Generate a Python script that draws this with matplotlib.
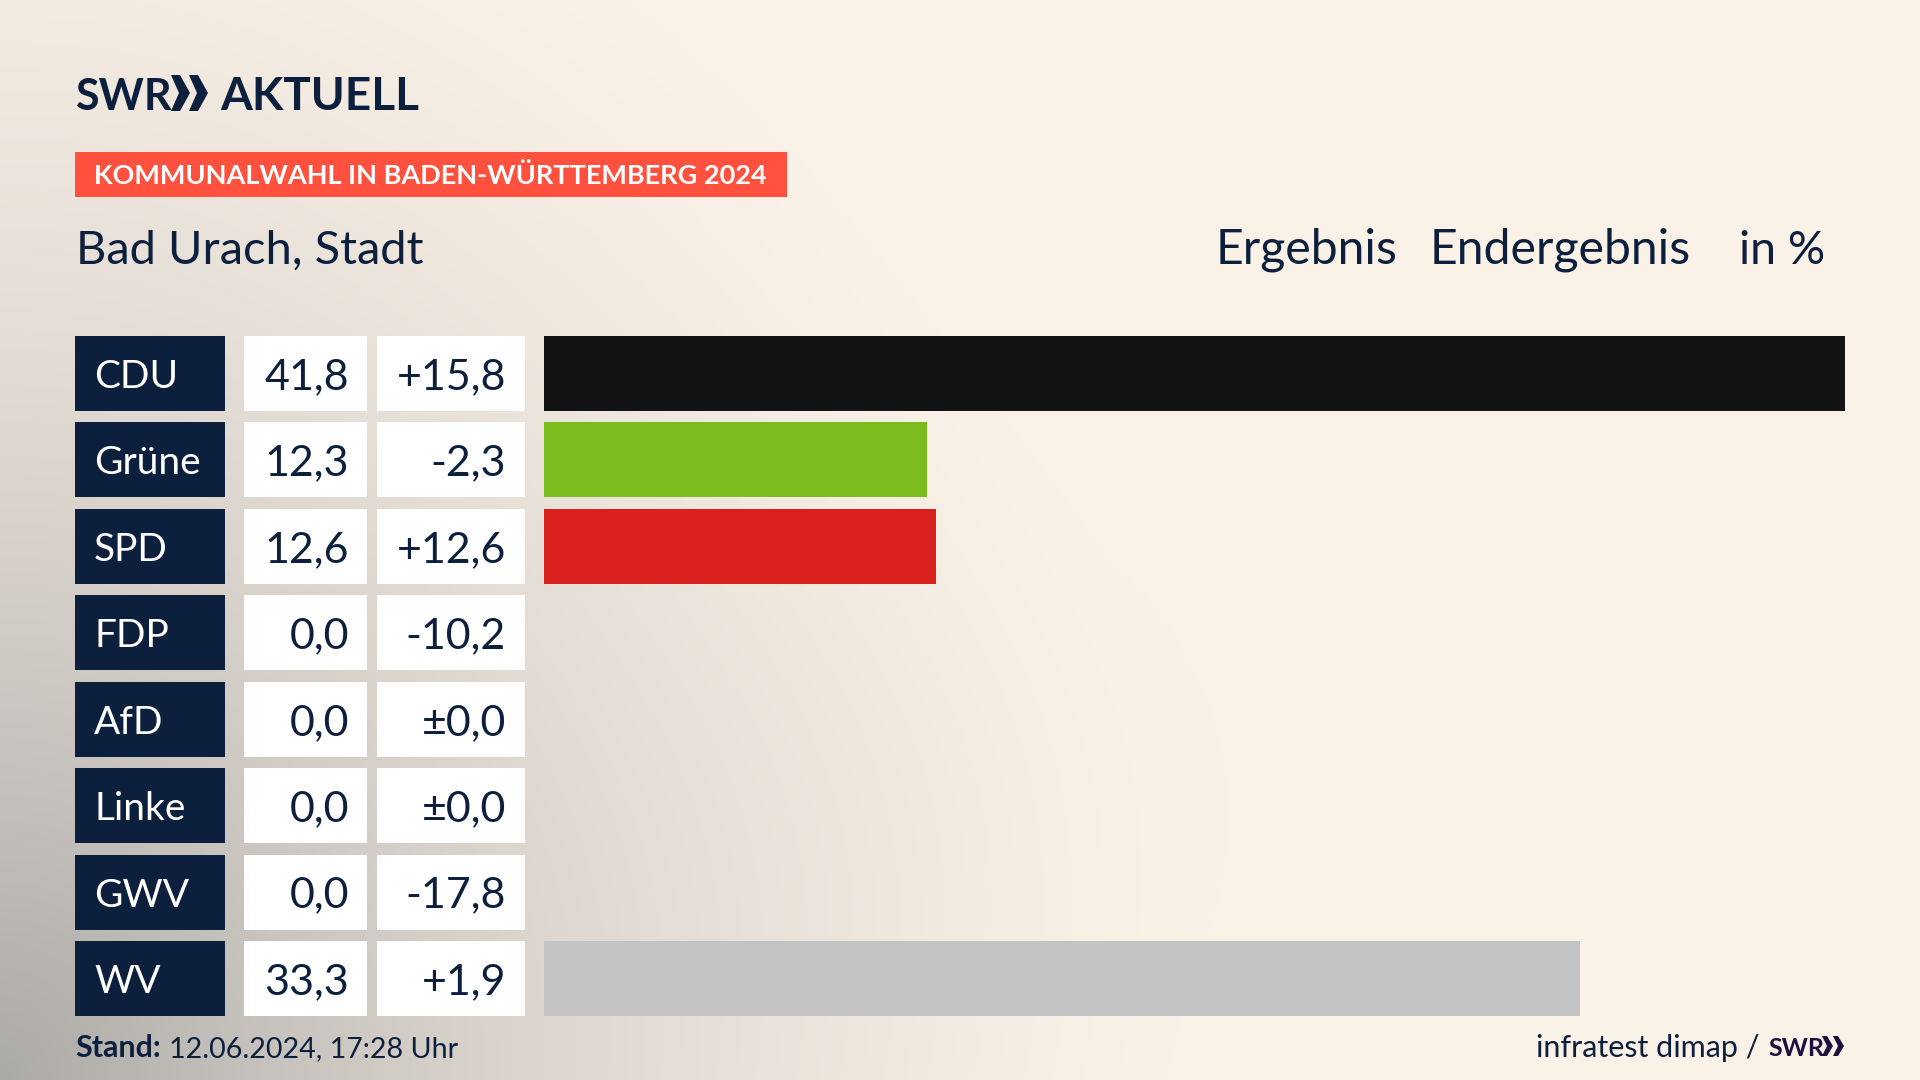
import numpy as np
import matplotlib.pyplot as plt
from matplotlib.patches import Polygon, Rectangle

parties = ["CDU", "Grüne", "SPD", "FDP", "AfD", "Linke", "GWV", "WV"]
results = [41.8, 12.3, 12.6, 0.0, 0.0, 0.0, 0.0, 33.3]
changes = [15.8, -2.3, 12.6, -10.2, 0.0, 0.0, -17.8, 1.9]
colors = ["#131313", "#7ABC1B", "#D8201C", "#888888", "#009EE0", "#BE3075", "#C3C3C3", "#C3C3C3"]

navy = "#0C1F3D"
cream = np.array([251, 242, 232]) / 255
grey = np.array([172, 170, 167]) / 255
font = "Lato"


def fmt_change(v):
    if v == 0:
        return "±0,0"
    return f"{v:+.1f}".replace(".", ",")


fig = plt.figure(figsize=(19.2, 10.8), dpi=100)

# background, dark corner bottom left plus a faint patch in the middle
bg = fig.add_axes([0, 0, 1, 1])
xx, yy = np.meshgrid(np.linspace(0, 1920, 480), np.linspace(0, 1080, 270))
dist = np.sqrt((xx / 1200) ** 2 + ((1080 - yy) / 1400) ** 2)
dark = np.clip(1 - dist, 0, 1) ** 1.6
dark = dark + 0.04 * np.exp(-((xx - 880) ** 2 + (yy - 820) ** 2) / (2 * 230 ** 2))
img = cream[None, None, :] * (1 - dark[..., None]) + grey[None, None, :] * dark[..., None]
bg.imshow(np.clip(img, 0, 1), extent=[0, 1920, 1080, 0], aspect="auto", interpolation="bilinear")
bg.set_xlim(0, 1920)
bg.set_ylim(1080, 0)
bg.axis("off")

# header
bg.text(75, 110, "SWR", family=font, weight="bold", fontsize=31, color=navy, va="baseline")
for x0 in (171, 189):
    bg.add_patch(Polygon([(x0, 75), (x0 + 9, 75), (x0 + 19, 93), (x0 + 9, 111), (x0, 111), (x0 + 8, 93)],
                         color=navy, lw=0))
bg.text(220, 110, "AKTUELL", family=font, weight="bold", fontsize=33, color=navy, va="baseline")

bg.add_patch(Rectangle((75, 152), 712, 45, color="#FF513D", lw=0))
bg.text(94, 184, "KOMMUNALWAHL IN BADEN-WÜRTTEMBERG 2024", family=font, weight="bold",
        fontsize=19.5, color="white", va="baseline")

bg.text(76, 264, "Bad Urach, Stadt", family=font, fontsize=33.8, color=navy, va="baseline")
bg.text(1216, 264, "Ergebnis", family=font, fontsize=34.7, color=navy, va="baseline")
bg.text(1430, 264, "Endergebnis", family=font, fontsize=34.7, color=navy, va="baseline")
bg.text(1825, 264, "in %", family=font, fontsize=33.5, color=navy, va="baseline", ha="right")

# table on the left, x in pixels
rows = np.arange(len(parties))
top, bottom = 336, 1016
tab = fig.add_axes([0, 1 - bottom / 1080, 544 / 1920, (bottom - top) / 1080])
tab.set_xlim(0, 544)
tab.set_ylim(7.434, -0.434)
tab.axis("off")
tab.barh(rows, 150, left=75, height=0.868, color=navy)
tab.barh(rows, 123, left=244, height=0.868, color="white")
tab.barh(rows, 148, left=377, height=0.868, color="white")
for i in rows:
    tab.text(94, i, parties[i], family=font, fontsize=28, color="white", va="center_baseline")
    tab.text(349, i, f"{results[i]:.1f}".replace(".", ","), family=font, fontsize=31, color=navy,
             ha="right", va="center_baseline")
    tab.text(506, i, fmt_change(changes[i]), family=font, fontsize=31, color=navy,
             ha="right", va="center_baseline")

# bars
ax = fig.add_axes([544 / 1920, 1 - bottom / 1080, 1301 / 1920, (bottom - top) / 1080])
ax.barh(rows, results, height=0.868, color=colors)
ax.set_xlim(0, 41.8)
ax.set_ylim(7.434, -0.434)
ax.axis("off")

# footer
bg.text(75, 1057, "Stand:", family=font, weight="bold", fontsize=22, color=navy, va="baseline")
bg.text(169, 1057, "12.06.2024, 17:28 Uhr", family=font, fontsize=20.6, color=navy, va="baseline")
bg.text(1760, 1057, "infratest dimap /", family=font, fontsize=22, color=navy, va="baseline", ha="right")
bg.text(1768, 1056, "SWR", family=font, weight="bold", fontsize=18, color="#1F0F3F", va="baseline")
for x0 in (1822, 1833):
    bg.add_patch(Polygon([(x0, 1036), (x0 + 5, 1036), (x0 + 11, 1046), (x0 + 5, 1056), (x0, 1056), (x0 + 5, 1046)],
                         color="#1F0F3F", lw=0))

fig.savefig("out.png", dpi=100)
